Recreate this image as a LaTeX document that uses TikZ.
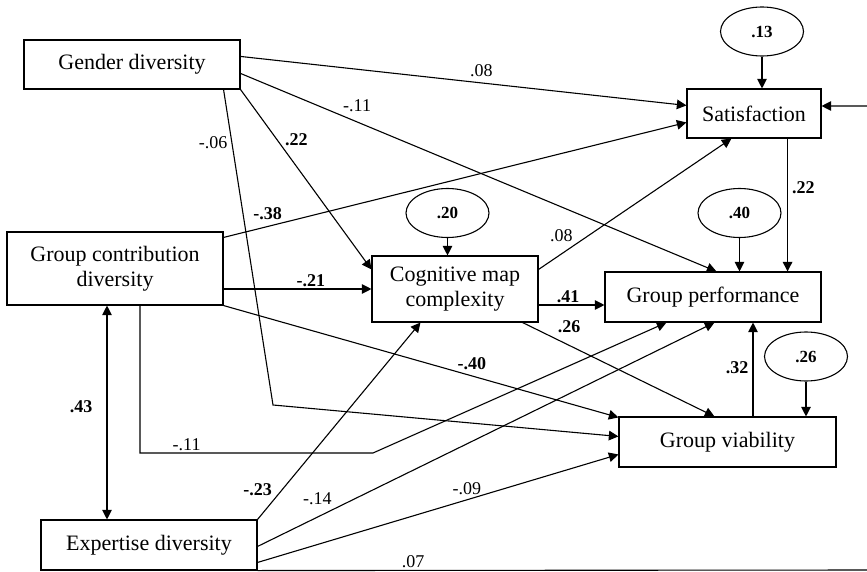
\documentclass[tikz,border=0pt]{standalone}
\usepackage{fontspec}
\setmainfont{Liberation Serif}
\usetikzlibrary{arrows.meta,calc,shapes.geometric}

\begin{document}
\begin{tikzpicture}[
    x=0.5pt,y=-0.5pt,
    font=\fontsize{11}{12.5}\selectfont,
    >={Triangle[length=4.8pt,width=4.8pt]},
    var/.style={draw,line width=0.55pt,inner sep=0pt,align=center},
    resid/.style={draw,ellipse,line width=0.55pt,inner sep=0pt,
      minimum width=41.5pt,minimum height=24.5pt,
      font=\fontsize{8.5}{10}\selectfont\bfseries},
    link/.style={->,line width=0.55pt},
    covar/.style={<->,line width=0.55pt},
    coef/.style={font=\fontsize{9}{10}\selectfont,inner sep=1pt},
    sig/.style={coef,font=\fontsize{9}{10}\selectfont\bfseries}
  ]
    \useasboundingbox (0,0) rectangle (867,572);
    \clip (0,0) rectangle (867,572);

    \node[var,minimum width=108pt,minimum height=24.5pt] (gender) at (132,64.5) {Gender diversity};
    \node[var,minimum width=108pt,minimum height=36.5pt] (contrib) at (115,268.5) {Group contribution\\diversity};
    \node[var,minimum width=108pt,minimum height=25pt] (expert) at (149,545) {Expertise diversity};
    \node[var,minimum width=83pt,minimum height=33pt] (cog) at (455,289) {Cognitive map\\complexity};
    \node[var,minimum width=67pt,minimum height=24.5pt] (satisf) at (754,113.5) {Satisfaction};
    \node[var,minimum width=108pt,minimum height=25pt] (perf) at (713,297) {Group performance};
    \node[var,minimum width=108.5pt,minimum height=25pt] (viab) at (727.5,442) {Group viability};

    \node[resid] (e13) at (762,31.5) {.13};
    \node[resid] (e20) at (447.5,213) {.20};
    \node[resid] (e40) at (739.5,213) {.40};
    \node[resid] (e26) at (806,356.5) {.26};

    \coordinate (kinkA) at (273,405);
    \coordinate (kinkB) at (373,453);
    \coordinate (rim) at (880,570);
    \coordinate (covtop) at ($(contrib.south)+(-8,0)$);
    \coordinate (vtop) at ($(viab.north)+(25.5,0)$);
    \coordinate (satbot) at ($(satisf.south east)+(-34,0)$);

    % gender diversity
    \draw[link] ($(gender.north east)+(0,17)$) -- node[coef,above=2pt,pos=0.54] {.08} ($(satisf.north west)+(0,17)$);
    \draw[link] ($(gender.north east)+(0,34)$) -- node[coef,above=4pt,pos=0.245] {-.11} ($(perf.north west)+(112,0)$);
    \draw[link] (gender.south east) -- node[sig,right=3pt,pos=0.276] {.22} ($(cog.north west)+(0,14)$);
    \draw[link] ($(gender.south east)+(-17,0)$) -- node[coef,left=1pt,pos=0.168] {-.06} (kinkA) -- ($(viab.north west)+(0,20)$);

    % group contribution diversity
    \draw[link] ($(contrib.north east)+(0,6)$) -- node[sig,above=2pt,pos=0.095] {-.38} ($(satisf.north west)+(0,34)$);
    \draw[link] (contrib.east |- cog.west) -- node[sig,above,pos=0.59] {-.21} (cog.west);
    \draw[link] (contrib.south east) -- node[sig,above=2pt,pos=0.629] {-.40} ($(viab.north west)+(0,1)$);
    \draw[link] ($(contrib.south)+(25,0)$) |- node[coef,above,pos=0.6] {-.11} (kinkB) -- ($(perf.south west)+(62,0)$);
    \draw[covar] (covtop) -- node[sig,left=6pt,pos=0.474] {.43} (covtop |- expert.north);

    % expertise diversity
    \draw[link] (expert.north east) -- node[sig,left=4pt,pos=0.152] {-.23} ($(cog.south west)+(49,0)$);
    \draw[link] ($(expert.north east)+(0,27)$) -- node[coef,above=5pt,pos=0.131] {-.14} ($(perf.south west)+(110,0)$);
    \draw[link] ($(expert.north east)+(0,43)$) -- node[coef,above=1.5pt,pos=0.58] {-.09} ($(viab.north west)+(0,38)$);
    \draw[link] (expert.south east) -- node[coef,above,pos=0.25] {.07} (rim) |- ($(satisf.east)+(0,-7.5)$);

    % mediators and outcomes
    \draw[link] ($(cog.east)+(0,16)$) -- node[sig,above,pos=0.45] {.41} ($(perf.west)+(0,8)$);
    \draw[link] ($(cog.north east)+(0,14)$) -- node[coef,above left=0pt,pos=0.19] {.08} ($(satisf.south west)+(45,0)$);
    \draw[link] ($(cog.south east)+(-16,0)$) -- node[sig,above right=1pt,pos=0.16] {.26} ($(viab.north west)+(96,0)$);
    \draw[link] (vtop) -- node[sig,left=1pt,pos=0.52] {.32} (vtop |- perf.south);
    \draw[link] (satbot) -- node[sig,right=1pt,pos=0.37] {.22} (satbot |- perf.north);

    \foreach \e/\t in {e13/satisf,e20/cog,e40/perf,e26/viab}
      \draw[link] (\e.south) -- (\e.south |- \t.north);
  \end{tikzpicture}
\end{document}
